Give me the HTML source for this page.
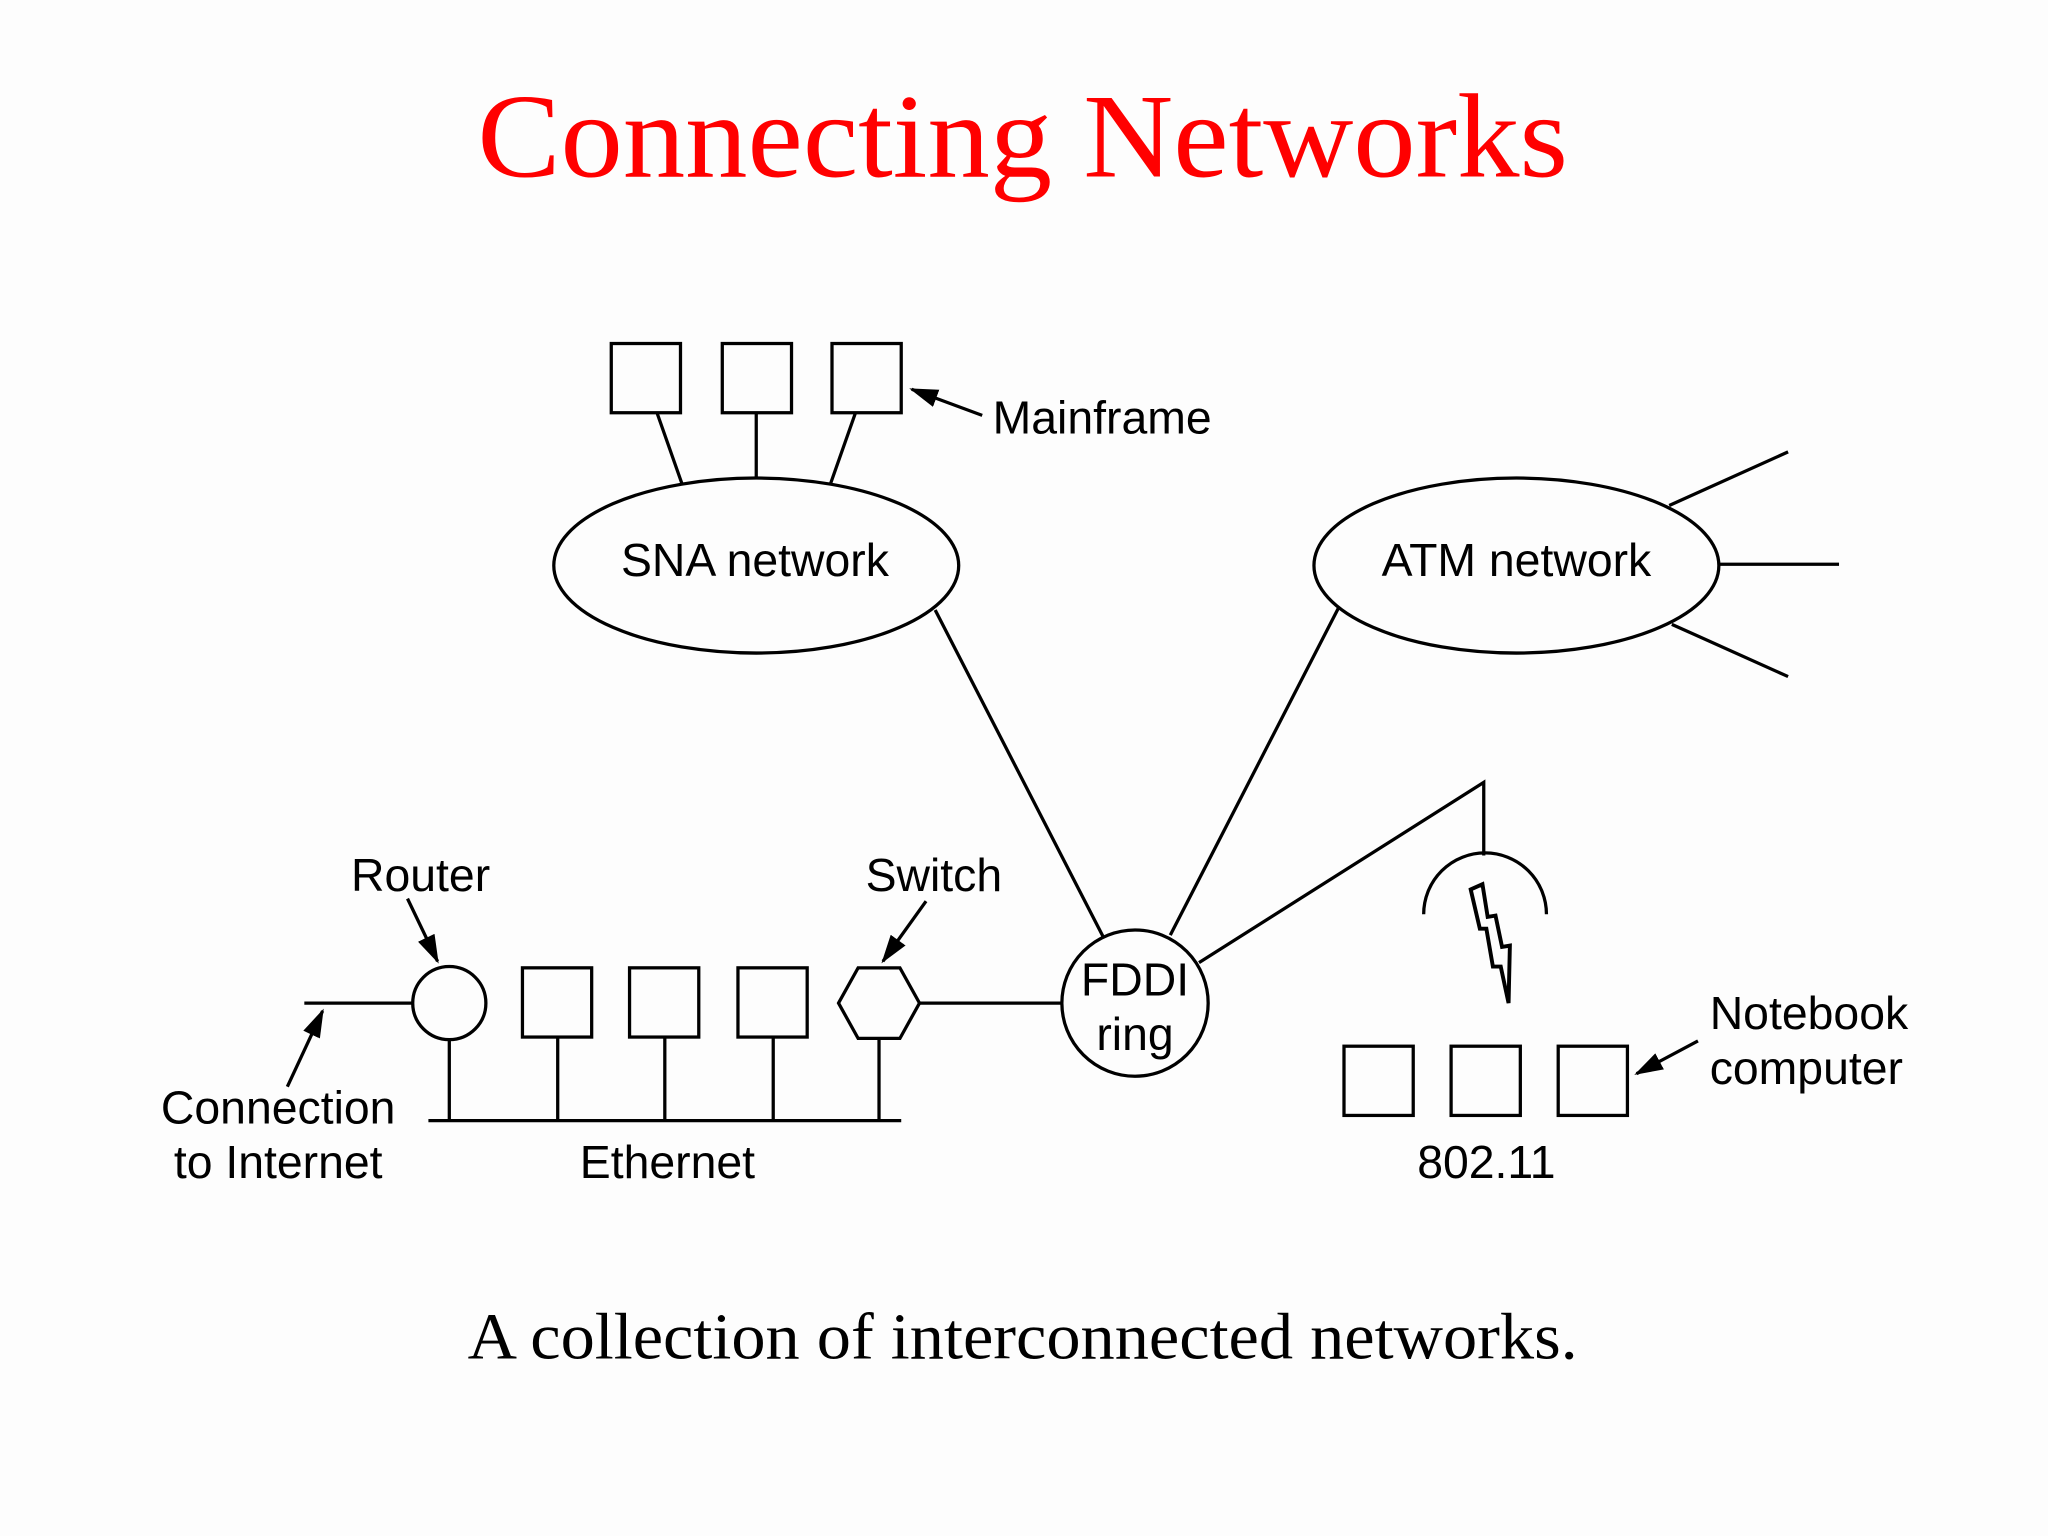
<!DOCTYPE html>
<html><head><meta charset="utf-8"><style>html,body{margin:0;padding:0;background:#fff;}svg{display:block}</style></head>
<body>
<svg width="2048" height="1536" viewBox="0 0 1568 1176" xmlns="http://www.w3.org/2000/svg">
<rect width="1568" height="1176" fill="#fdfdfd"/>
<defs><marker id="b" markerWidth="22" markerHeight="14" refX="20" refY="7" orient="auto" markerUnits="userSpaceOnUse"><path d="M0,0 L22,7 L0,14 z" fill="#000"/></marker></defs>
<text x="783" y="135" text-anchor="middle" font-family="Liberation Serif, serif" font-size="92" fill="#f00" textLength="835" lengthAdjust="spacingAndGlyphs">Connecting Networks</text>
<g stroke="#000" stroke-width="2.5" fill="none">
<rect x="468" y="263" width="53" height="53"/><rect x="553" y="263" width="53" height="53"/><rect x="637" y="263" width="53" height="53"/>
<line x1="503" y1="316" x2="522" y2="370"/><line x1="579" y1="316" x2="579" y2="367"/><line x1="655" y1="316" x2="636" y2="370"/>
<line x1="752" y1="318" x2="698" y2="298" marker-end="url(#b)"/>
<ellipse cx="579" cy="433" rx="155" ry="67"/>
<ellipse cx="1161" cy="433" rx="155" ry="67"/>
<line x1="1278" y1="387" x2="1369" y2="346"/><line x1="1316" y1="432" x2="1408" y2="432"/><line x1="1280" y1="478" x2="1369" y2="518"/>
<line x1="716" y1="467" x2="845" y2="718"/><line x1="1025" y1="465" x2="896" y2="716"/>
<circle cx="869" cy="768" r="56"/>
<polyline points="918,737 1136,599 1136,655"/>
<path d="M1090,700 A47,47 0 0 1 1184,700"/>
<polygon stroke-width="3" points="1126,681 1135,677 1139,702 1145,701 1150,725 1156,724 1155,768 1149,740 1143,740 1138,711 1133,711"/>
<rect x="1029" y="801" width="53" height="53"/><rect x="1111" y="801" width="53" height="53"/><rect x="1193" y="801" width="53" height="53"/>
<line x1="1300" y1="797" x2="1253" y2="822" marker-end="url(#b)"/>
<polygon points="642,768 657,741 689,741 704,768 689,795 657,795"/>
<line x1="704" y1="768" x2="813" y2="768"/>
<circle cx="344" cy="768" r="28"/>
<line x1="233" y1="768" x2="316" y2="768"/>
<rect x="400" y="741" width="53" height="53"/><rect x="482" y="741" width="53" height="53"/><rect x="565" y="741" width="53" height="53"/>
<line x1="328" y1="858" x2="690" y2="858"/>
<line x1="344" y1="796" x2="344" y2="858"/><line x1="427" y1="794" x2="427" y2="858"/><line x1="509" y1="794" x2="509" y2="858"/><line x1="592" y1="794" x2="592" y2="858"/><line x1="673" y1="795" x2="673" y2="858"/>
<line x1="220" y1="832" x2="247" y2="774" marker-end="url(#b)"/>
<line x1="312" y1="688" x2="335" y2="736" marker-end="url(#b)"/>
<line x1="709" y1="690" x2="676" y2="736" marker-end="url(#b)"/>
</g>
<g font-family="Liberation Sans, sans-serif" font-size="35.5" fill="#000">
<text x="760" y="332">Mainframe</text>
<text x="578" y="441" text-anchor="middle">SNA network</text>
<text x="1161" y="441" text-anchor="middle">ATM network</text>
<text x="869" y="762" text-anchor="middle">FDDI</text>
<text x="869" y="804" text-anchor="middle">ring</text>
<text x="1138" y="902" text-anchor="middle">802.11</text>
<text x="1309" y="788">Notebook</text>
<text x="1309" y="830">computer</text>
<text x="511" y="902" text-anchor="middle">Ethernet</text>
<text x="213" y="860" text-anchor="middle">Connection</text>
<text x="213" y="902" text-anchor="middle">to Internet</text>
<text x="322" y="682" text-anchor="middle">Router</text>
<text x="715" y="682" text-anchor="middle">Switch</text>
</g>
<text x="783" y="1040" text-anchor="middle" font-family="Liberation Serif, serif" font-size="50" fill="#000" textLength="850" lengthAdjust="spacingAndGlyphs">A collection of interconnected networks.</text>
</svg>
</body></html>
